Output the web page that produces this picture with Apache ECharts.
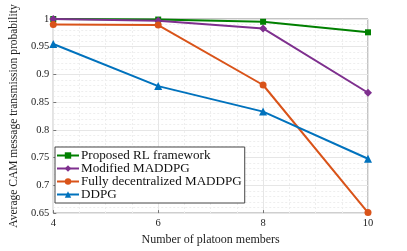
<!DOCTYPE html>
<html><head><meta charset="utf-8">
<script src="https://cdn.jsdelivr.net/npm/echarts@6/dist/echarts.min.js"></script>
<style>html,body{margin:0;padding:0;background:#fff}#c{width:407px;height:251px}</style>
</head><body><div id="c"></div>
<script>
const members = [4, 6, 8, 10];
const proposed = [1.0, 0.999, 0.995, 0.976];
const modified = [1.0, 0.997, 0.983, 0.867];
const fullyDec = [0.990, 0.989, 0.881, 0.651];
const ddpg = [0.955, 0.879, 0.833, 0.748];
const seriesNames = ['Proposed RL framework', 'Modified MADDPG', 'Fully decentralized MADDPG', 'DDPG'];

const font = 'Liberation Serif';
const chart = echarts.init(document.getElementById('c'));
function mk(name, vals, color, symbol, size) {
  return {
    name, type: 'line', data: members.map((m, i) => [m, vals[i]]),
    symbol, symbolSize: size, showSymbol: true,
    lineStyle: { color, width: 2 }, itemStyle: { color },
    animation: false
  };
}
chart.setOption({
  animation: false,
  textStyle: { fontFamily: font },
  grid: { left: 53, right: 39, top: 19, bottom: 29, show: true, borderColor: '#888', borderWidth: 1 },
  xAxis: {
    type: 'value', min: 4, max: 10, interval: 2,
    name: 'Number of platoon members', nameLocation: 'middle', nameGap: 18,
    nameTextStyle: { fontFamily: font, fontSize: 12, color: '#222' },
    axisLine: { show: false },
    axisTick: { inside: true, length: 3, lineStyle: { color: '#777' } },
    axisLabel: { fontFamily: font, fontSize: 10.5, color: '#222', margin: 5 },
    splitLine: { show: true, lineStyle: { color: '#e6e6e6', width: 1 } },
    minorTick: { show: false, splitNumber: 4 },
    minorSplitLine: { show: true, lineStyle: { color: '#eeeeee', type: [2, 2] } }
  },
  yAxis: {
    type: 'value', min: 0.65, max: 1, interval: 0.05,
    name: 'Average CAM message transmission probability', nameLocation: 'middle', nameGap: 31,
    nameTextStyle: { fontFamily: font, fontSize: 11.5, color: '#222' },
    axisLine: { show: false },
    axisTick: { inside: true, length: 3, lineStyle: { color: '#777' } },
    axisLabel: { fontFamily: font, fontSize: 10.5, color: '#222', margin: 4,
      formatter: v => String(parseFloat(v.toFixed(2))) },
    splitLine: { show: true, lineStyle: { color: '#e6e6e6', width: 1 } },
    minorTick: { show: false, splitNumber: 5 },
    minorSplitLine: { show: true, lineStyle: { color: '#eeeeee', type: [2, 2] } }
  },
  legend: {
    orient: 'vertical', left: 55, top: 147, data: seriesNames,
    backgroundColor: '#fff', borderColor: '#444', borderWidth: 1,
    padding: [2, 3, 2, 1], itemGap: 0, itemWidth: 22, itemHeight: 8,
    textStyle: { fontFamily: font, fontSize: 13.1, color: '#111', padding: [0, 0, 0, -3] }
  },
  series: [
    mk(seriesNames[0], proposed, '#008000', 'rect', 6),
    mk(seriesNames[1], modified, '#7E2F8E', 'diamond', 8),
    mk(seriesNames[2], fullyDec, '#D95319', 'circle', 7),
    mk(seriesNames[3], ddpg, '#0072BD', 'triangle', 8)
  ]
});
</script></body></html>
